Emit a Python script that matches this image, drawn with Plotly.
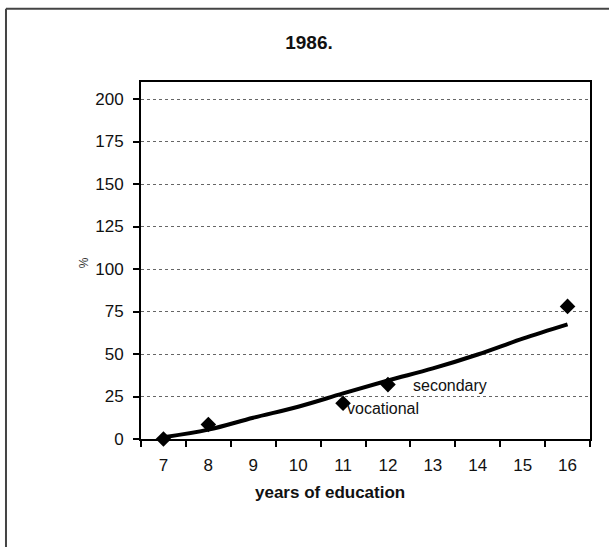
import plotly.graph_objects as go

# years of education (categories on the x axis)
years = ["7", "8", "9", "10", "11", "12", "13", "14", "15", "16"]

# observed points (diamonds)
point_years = ["7", "8", "11", "12", "16"]
point_values = [0, 8.5, 21, 32, 78]
point_labels = ["", "", "vocational", "secondary", ""]

# fitted trend line
trend_values = [1, 5.5, 12.5, 19, 26.8, 34.4, 41.5, 49.7, 59, 67.4]

y_ticks = [0, 25, 50, 75, 100, 125, 150, 175, 200]

FONT = "Liberation Sans, Arial, sans-serif"

fig = go.Figure()

fig.add_trace(go.Scatter(
    x=years, y=trend_values, mode="lines",
    line=dict(color="black", width=4, shape="spline"),
    showlegend=False, hoverinfo="skip"))

fig.add_trace(go.Scatter(
    x=point_years, y=point_values, mode="markers",
    marker=dict(symbol="diamond", color="black", size=12),
    cliponaxis=False, showlegend=False))

# point labels (category axis -> use the category index)
fig.add_annotation(x=years.index("11"), y=18, text=point_labels[2], showarrow=False,
                   xanchor="left", yanchor="middle", xshift=2,
                   font=dict(size=16, color="#111"))
fig.add_annotation(x=years.index("12"), y=31.5, text=point_labels[3], showarrow=False,
                   xanchor="left", yanchor="middle", xshift=23,
                   font=dict(size=16, color="#111"))

# axis titles
fig.add_annotation(xref="paper", yref="paper", x=0.421, y=-0.181,
                   text="<b>years of education</b>", showarrow=False,
                   font=dict(size=17, color="#111"))
fig.add_annotation(xref="paper", yref="paper", x=-0.147, y=0.495,
                   text="%", textangle=-90, showarrow=False,
                   font=dict(size=12, color="#333"))

# outer frame (top and left edges)
fig.add_shape(type="line", xref="paper", yref="paper",
              x0=-0.3007, y0=1.2052, x1=1.05, y1=1.2052,
              line=dict(color="#444", width=2))
fig.add_shape(type="line", xref="paper", yref="paper",
              x0=-0.3007, y0=1.2052, x1=-0.3007, y1=-0.32,
              line=dict(color="#444", width=2))

fig.update_layout(
    width=609, height=547,
    margin=dict(l=141, r=19, t=82, b=108, pad=0),
    paper_bgcolor="white", plot_bgcolor="white",
    font=dict(family=FONT, size=17, color="#111"),
    title=dict(text="<b>1986.</b>", x=309 / 609, xanchor="center",
               y=1 - 42.7 / 547, yanchor="middle",
               font=dict(size=19, color="#111")),
    xaxis=dict(type="category", categoryorder="array", categoryarray=years,
               range=[-0.5, len(years) - 0.5], automargin=False,
               showgrid=False, zeroline=False, tickangle=0,
               showline=True, linecolor="black", linewidth=2, mirror=True,
               ticks="outside", tickson="boundaries", ticklen=6,
               tickcolor="black", tickwidth=2, ticklabelstandoff=10),
    yaxis=dict(range=[0, 210], tickvals=y_ticks, automargin=False,
               showgrid=True, gridcolor="#666", griddash="dot", gridwidth=1,
               zeroline=False,
               showline=True, linecolor="black", linewidth=2, mirror=True,
               ticks="outside", ticklen=6, tickcolor="black", tickwidth=2,
               ticklabelstandoff=6),
)

# the page has a default 8px body margin; drop it so the figure fills the window
fig.write_html("out.html", config={"displayModeBar": False},
               post_script="document.body.style.margin='0px';")
